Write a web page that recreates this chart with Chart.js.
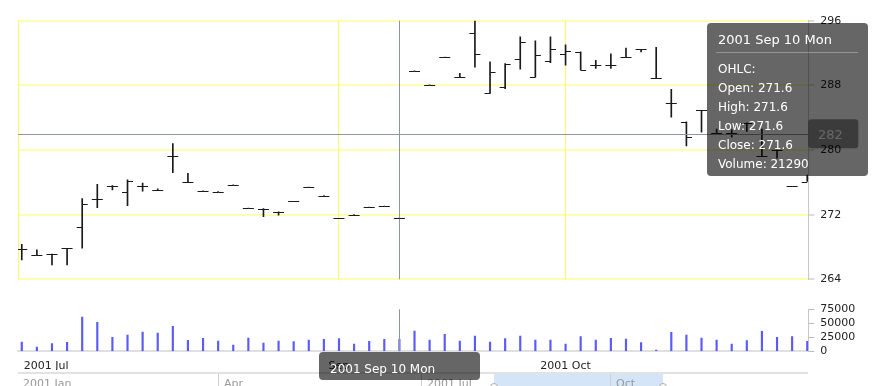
<!DOCTYPE html>
<html>
<head>
<meta charset="utf-8">
<script src="https://cdn.jsdelivr.net/npm/chart.js@4.4.1/dist/chart.umd.min.js"></script>
<style>
  body { margin: 0; background: #fff; width: 896px; height: 386px; overflow: hidden; position: relative;
         font-family: 'DejaVu Sans', Verdana, sans-serif; }
  canvas { position: absolute; left: 0; }
  #price { top: 0; }
  #volume { top: 290px; }
  .nav-line { position: absolute; left: 18px; top: 372px; width: 790px; height: 2px; background: #e2e2e2; }
  .nav-sel { position: absolute; left: 494px; top: 374px; width: 169px; height: 12px; background: #d3e5f7; }
  .nav-sep { position: absolute; top: 374px; width: 1px; height: 12px; background: #cfcfcf; }
  .nav-lbl { position: absolute; top: 377px; font-size: 11px; line-height: 13px; color: #999; white-space: nowrap; }
  .nav-handle { position: absolute; top: 383px; width: 6px; height: 6px; border: 1px solid #aaa; border-radius: 50%; background: #fff; }
  #tip { position: absolute; left: 707px; top: 23px; width: 161px; height: 153px; background: rgba(0,0,0,0.6);
         border-radius: 4px; color: #fff; }
  #tip .title { position: absolute; left: 11px; top: 9px; font-size: 13px; line-height: 16px; white-space: nowrap; }
  #tip .sep { position: absolute; left: 9px; top: 29px; width: 142px; height: 1px; background: rgba(255,255,255,0.3); }
  #tip .body { position: absolute; left: 11px; top: 37px; font-size: 12px; line-height: 18.9px; white-space: nowrap; }
  #dateBox { position: absolute; left: 319px; top: 352px; width: 161px; height: 28px; background: rgba(0,0,0,0.6);
             border-radius: 4px; color: #fff; font-size: 12px; line-height: 16px; box-sizing: border-box;
             padding: 9px 0 0 11px; white-space: nowrap; }
</style>
</head>
<body>
<canvas id="price" width="896" height="300"></canvas>
<canvas id="volume" width="896" height="80"></canvas>

<div class="nav-line"></div>
<div class="nav-sel"></div>
<div class="nav-sep" style="left:218px"></div>
<div class="nav-sep" style="left:421px"></div>
<div class="nav-sep" style="left:610px"></div>
<div class="nav-lbl" style="left:23px">2001 Jan</div>
<div class="nav-lbl" style="left:224px">Apr</div>
<div class="nav-lbl" style="left:427px">2001 Jul</div>
<div class="nav-lbl" style="left:616px">Oct</div>
<div class="nav-handle" style="left:490px"></div>
<div class="nav-handle" style="left:659px"></div>

<div id="dateBox"></div>
<div id="tip"><div class="title"></div><div class="sep"></div><div class="body"></div></div>

<script>
// trading days shown in the view
const dates = [
  '2001-08-03','2001-08-06','2001-08-07','2001-08-08','2001-08-09','2001-08-10',
  '2001-08-13','2001-08-14','2001-08-15','2001-08-16','2001-08-17',
  '2001-08-20','2001-08-21','2001-08-22','2001-08-23','2001-08-24',
  '2001-08-27','2001-08-28','2001-08-29','2001-08-30','2001-08-31',
  '2001-09-04','2001-09-05','2001-09-06','2001-09-07','2001-09-10',
  '2001-09-17','2001-09-18','2001-09-19','2001-09-20','2001-09-21',
  '2001-09-24','2001-09-25','2001-09-26','2001-09-27','2001-09-28',
  '2001-10-01','2001-10-02','2001-10-03','2001-10-04','2001-10-05',
  '2001-10-08','2001-10-09','2001-10-10','2001-10-11','2001-10-12',
  '2001-10-15','2001-10-16','2001-10-17','2001-10-18','2001-10-19',
  '2001-10-22','2001-10-23'
];

const opens = [
  267.75, 267.05, 267.13, 267.84, 270.5, 273.94, 275.6, 274.75, 275.6, 275.1,
  279.3, 276.0, 274.95, 274.85, 275.7, 272.8, 272.75, 272.35, 273.65, 275.4,
  274.35, 271.55, 272.0, 272.95, 273.05, 271.6, 289.8, 288.1, 291.5, 289.05,
  294.5, 287.0, 287.8, 291.25, 289.05, 291.0, 291.9, 292.15, 290.5, 290.5,
  291.5, 292.45, 288.9, 285.8, 283.5, 284.9, 282.15, 282.1, 283.35, 279.2,
  280.0, 275.5, 276.1
];
const highs = [
  268.33, 267.65, 267.13, 267.84, 274.0, 275.76, 275.6, 276.3, 275.9, 275.2,
  280.8, 277.1, 274.95, 274.85, 275.7, 272.8, 272.75, 272.35, 273.65, 275.4,
  274.35, 271.55, 272.0, 272.95, 273.05, 271.6, 289.8, 288.1, 291.5, 289.5,
  296.0, 290.9, 290.7, 294.0, 293.5, 294.0, 293.0, 292.15, 291.1, 291.9,
  292.6, 292.45, 292.7, 287.5, 283.5, 284.9, 282.6, 282.5, 283.35, 282.6,
  280.0, 275.5, 276.9
];
const lows = [
  266.4, 267.05, 265.77, 265.77, 267.84, 272.86, 275.05, 273.1, 274.9, 275.0,
  277.2, 276.0, 274.95, 274.85, 275.7, 272.8, 271.75, 271.95, 273.65, 275.4,
  274.35, 271.55, 272.0, 272.95, 273.05, 271.6, 289.8, 288.1, 291.5, 289.05,
  290.25, 287.0, 287.6, 290.0, 289.0, 290.8, 290.5, 289.9, 290.1, 290.1,
  291.5, 292.15, 288.9, 284.05, 280.5, 282.2, 282.1, 281.6, 282.3, 279.2,
  279.0, 275.5, 276.1
];
const closes = [
  267.75, 267.05, 267.13, 267.84, 273.3, 273.94, 275.6, 276.2, 275.6, 275.1,
  279.3, 276.0, 274.95, 274.85, 275.7, 272.8, 272.75, 272.35, 273.65, 275.4,
  274.35, 271.55, 272.0, 272.95, 273.05, 271.6, 289.8, 288.1, 291.5, 289.05,
  291.9, 289.7, 290.6, 293.4, 291.7, 292.5, 292.2, 289.9, 290.5, 290.5,
  291.5, 292.45, 288.9, 285.8, 281.65, 284.9, 282.15, 282.1, 283.35, 279.2,
  280.0, 275.5, 276.5
];
const volumes = [
  16600, 7700, 13600, 16000, 61200, 51800, 25000, 29100, 34500, 32700,
  44600, 19600, 23200, 18400, 11300, 23800, 14800, 18400, 17200, 20200,
  21400, 22600, 13000, 17900, 21400, 21290, 36200, 20200, 30300, 18400,
  27300, 16600, 22600, 27300, 20200, 20200, 13000, 26100, 20200, 23200,
  22000, 15400, 2300, 33900, 29100, 23800, 20200, 13000, 19000, 35700,
  25000, 26100, 17900
];

// axis ticks
const priceTicks = [264, 272, 280, 288, 296];
const volumeTicks = [0, 25000, 50000, 75000];
const dateTickLabels = ['2001 Jul', 'Sep', '2001 Oct'];
const dateTickDays = [null, '2001-09-04', '2001-10-01'];  // null = first period, pinned at the left

// cursor
const cursorDate = '2001-09-10';
const cursorValue = 282;

const cursorIndex = dates.indexOf(cursorDate);
const xMin = -0.25, xMax = 52.07;
const julValue = 1.61;  // where the clipped first period label sits
const monthTicks = dateTickDays.map(d => d === null ? julValue : dates.indexOf(d));

Chart.defaults.font.family = "'DejaVu Sans', Verdana, sans-serif";
Chart.defaults.font.size = 11;
Chart.defaults.color = '#222';

const months = ['Jan','Feb','Mar','Apr','May','Jun','Jul','Aug','Sep','Oct','Nov','Dec'];
const weekDays = ['Sun','Mon','Tue','Wed','Thu','Fri','Sat'];
function fmtDate(iso) {
  const d = new Date(iso + 'T00:00:00Z');
  return `${d.getUTCFullYear()} ${months[d.getUTCMonth()]} ${d.getUTCDate()} ${weekDays[d.getUTCDay()]}`;
}

// open tick on the left, close tick on the right
const ohlcTicks = {
  id: 'ohlcTicks',
  afterDatasetsDraw(chart) {
    const {ctx, chartArea: a, scales: {x, y}} = chart;
    ctx.save();
    ctx.beginPath();
    ctx.rect(a.left, a.top, a.right - a.left, a.bottom - a.top);
    ctx.clip();
    ctx.strokeStyle = '#1a1a1a';
    ctx.lineWidth = 1;
    ctx.beginPath();
    dates.forEach((d, i) => {
      const px = x.getPixelForValue(i);
      const yo = Math.round(y.getPixelForValue(opens[i])) + 0.5;
      const yc = Math.round(y.getPixelForValue(closes[i])) + 0.5;
      ctx.moveTo(px - 5.5, yo); ctx.lineTo(px, yo);
      ctx.moveTo(px, yc); ctx.lineTo(px + 5.5, yc);
    });
    ctx.stroke();
    ctx.restore();
  }
};

const crosshair = {
  id: 'crosshair',
  afterDatasetsDraw(chart, args, opts) {
    const {ctx, chartArea: a, scales: {x, y}} = chart;
    const px = Math.round(x.getPixelForValue(cursorIndex)) + 0.5;
    ctx.save();
    ctx.strokeStyle = '#8e969d';
    ctx.lineWidth = 1;
    ctx.beginPath();
    ctx.moveTo(px, a.top); ctx.lineTo(px, a.bottom);
    if (opts.showValue) {
      const py = Math.round(y.getPixelForValue(cursorValue)) + 0.5;
      ctx.moveTo(a.left, py); ctx.lineTo(a.right, py);
    }
    ctx.stroke();
    ctx.restore();
  },
  afterDraw(chart, args, opts) {
    if (!opts.showValue) return;
    const {ctx, chartArea: a, scales: {y}} = chart;
    const py = y.getPixelForValue(cursorValue);
    ctx.save();
    ctx.fillStyle = 'rgba(0,0,0,0.42)';
    ctx.beginPath();
    ctx.roundRect(a.right, py - 14.5, 50, 29, 3);
    ctx.fill();
    ctx.fillStyle = '#fff';
    ctx.font = "13px 'DejaVu Sans'";
    ctx.textAlign = 'center';
    ctx.textBaseline = 'middle';
    ctx.fillText(String(cursorValue), a.right + 22, py + 2);
    ctx.restore();
  }
};

const priceChart = new Chart(document.getElementById('price'), {
  type: 'bar',
  data: {
    datasets: [{
      data: dates.map((d, i) => ({x: i, y: [lows[i], highs[i]]})),
      backgroundColor: '#1a1a1a',
      barThickness: 1
    }]
  },
  options: {
    responsive: false,
    animation: false,
    layout: {padding: {left: 18, top: 20.7, right: 0, bottom: 20.7}},
    plugins: {legend: {display: false}, tooltip: {enabled: false}, crosshair: {showValue: true}},
    scales: {
      x: {
        type: 'linear', min: xMin, max: xMax, offset: false,
        afterBuildTicks: s => { s.ticks = [xMin, monthTicks[1], monthTicks[2]].map(v => ({value: v})); },
        afterFit: s => { s.height = 0; },
        grid: {offset: false, color: '#fbfb6a', lineWidth: 1, drawTicks: false},
        border: {display: false},
        ticks: {display: false}
      },
      y: {
        position: 'right', min: 264, max: 296,
        afterBuildTicks: s => { s.ticks = priceTicks.map(v => ({value: v})); },
        afterFit: s => { s.width = 87.7; },
        ticks: {padding: 6, autoSkip: false},
        grid: {color: 'rgba(255,255,60,0.4)', lineWidth: 2, tickLength: 6, tickColor: '#bbb', tickWidth: 1},
        border: {color: '#c8c8c8'}
      }
    }
  },
  plugins: [crosshair, ohlcTicks]
});

const volumeChart = new Chart(document.getElementById('volume'), {
  type: 'bar',
  data: {
    datasets: [{
      data: dates.map((d, i) => ({x: i, y: volumes[i]})),
      backgroundColor: '#5a5aff',
      barThickness: 1.5
    }]
  },
  options: {
    responsive: false,
    animation: false,
    layout: {padding: {left: 18, top: 19.3, right: 0, bottom: 0}},
    plugins: {legend: {display: false}, tooltip: {enabled: false}, crosshair: {showValue: false}},
    scales: {
      x: {
        type: 'linear', min: xMin, max: xMax, offset: false,
        afterBuildTicks: s => { s.ticks = monthTicks.map(v => ({value: v})); },
        afterFit: s => { s.height = 18.7; },
        grid: {display: false, offset: false},
        border: {display: true, color: '#e0e0e0', width: 2},
        ticks: {
          padding: 0, maxRotation: 0, autoSkip: false,
          callback: (v, i) => dateTickLabels[i]
        }
      },
      y: {
        position: 'right', min: 0, max: 75000,
        afterBuildTicks: s => { s.ticks = volumeTicks.map(v => ({value: v})); },
        afterFit: s => { s.width = 87.7; },
        ticks: {padding: 6, autoSkip: false, callback: v => String(v)},
        grid: {drawOnChartArea: false, tickLength: 6, tickColor: '#bbb'},
        border: {color: '#c8c8c8'}
      }
    }
  },
  plugins: [crosshair]
});

// cursor balloons, filled from the data
document.getElementById('dateBox').textContent = fmtDate(cursorDate);
document.querySelector('#tip .title').textContent = fmtDate(cursorDate);
document.querySelector('#tip .body').innerHTML = [
  'OHLC:',
  'Open: ' + opens[cursorIndex].toFixed(1),
  'High: ' + highs[cursorIndex].toFixed(1),
  'Low: ' + lows[cursorIndex].toFixed(1),
  'Close: ' + closes[cursorIndex].toFixed(1),
  'Volume: ' + volumes[cursorIndex]
].join('<br>');
</script>
</body>
</html>
